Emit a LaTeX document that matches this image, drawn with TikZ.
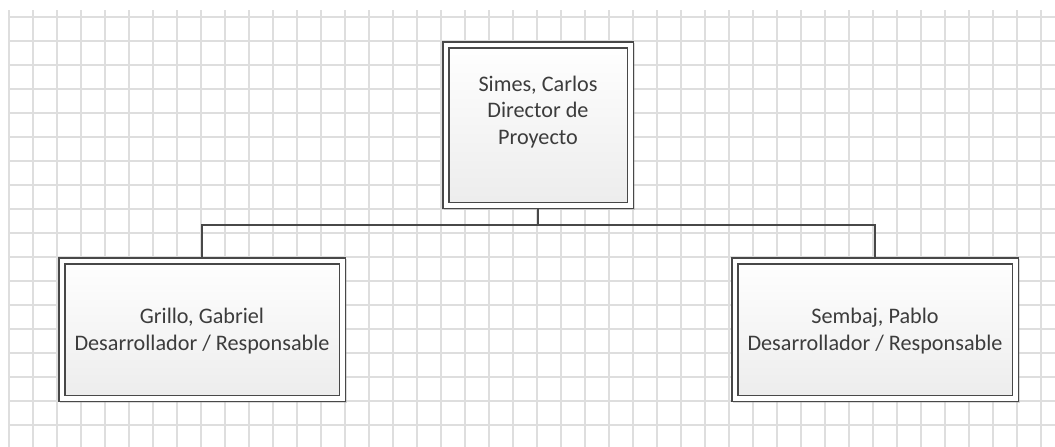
\documentclass[tikz,border=0pt]{standalone}
\usepackage{fontspec}
\setmainfont{Carlito}
\usetikzlibrary{shadows}
\definecolor{gridgray}{RGB}{222,222,222}
\definecolor{boxline}{RGB}{72,72,72}
\definecolor{textgray}{RGB}{60,60,60}
\definecolor{shadegray}{RGB}{236,236,236}
\tikzset{
  orgbox/.style={draw=boxline, line width=1.5pt, fill=white,
    minimum width=#1, inner sep=0pt, outer sep=0pt,
    drop shadow={shadow xshift=1.5pt, shadow yshift=-1.5pt, opacity=0.35, fill=black!40},
    path picture={
      \shade[top color=white, bottom color=shadegray]
        ([shift={(6pt,-6pt)}]path picture bounding box.north west)
        rectangle ([shift={(-6pt,6pt)}]path picture bounding box.south east);
      \draw[boxline, line width=1.5pt]
        ([shift={(6pt,-6pt)}]path picture bounding box.north west)
        rectangle ([shift={(-6pt,6pt)}]path picture bounding box.south east);
    }},
  boxtext/.style={align=center, text=textgray, inner sep=0pt,
    font=\fontsize{22.2}{26.7}\selectfont},
  link/.style={draw=boxline, line width=1.5pt},
  gridline/.style={draw=gridgray, line width=1.5pt}
}
\begin{document}
\begin{tikzpicture}[x=1pt,y=-1pt]
\useasboundingbox (0,0) rectangle (1055,447);
\fill[white] (0,0) rectangle (1055,447);
% grid
\foreach \gx in {0,...,43} { \draw[gridline] (9+24*\gx,10) -- (9+24*\gx,447); }
\foreach \gy in {0,...,18} { \draw[gridline] (8,17+24*\gy) -- (1055,17+24*\gy); }
% boxes
\node (topbox) [orgbox=190.5pt, minimum height=166.5pt] at (538,125) {};
\node (leftbox) [orgbox=286.5pt, minimum height=143.5pt] at (202,329.5) {};
\node (rightbox) [orgbox=286.5pt, minimum height=143.5pt] at (875,329.5) {};
\node (toptext) [boxtext] at (538,112) {Simes, Carlos\\Director de\\Proyecto};
\node (lefttext) [boxtext] at (202,331) {Grillo, Gabriel\\Desarrollador / Responsable};
\node (righttext) [boxtext] at (875,331) {Sembaj, Pablo\\Desarrollador / Responsable};
% connectors
\coordinate (junction) at (538,225);
\draw[link] (topbox.south) -- (junction);
\draw[link] (leftbox.north) |- (junction) -| (rightbox.north);
\end{tikzpicture}
\end{document}
